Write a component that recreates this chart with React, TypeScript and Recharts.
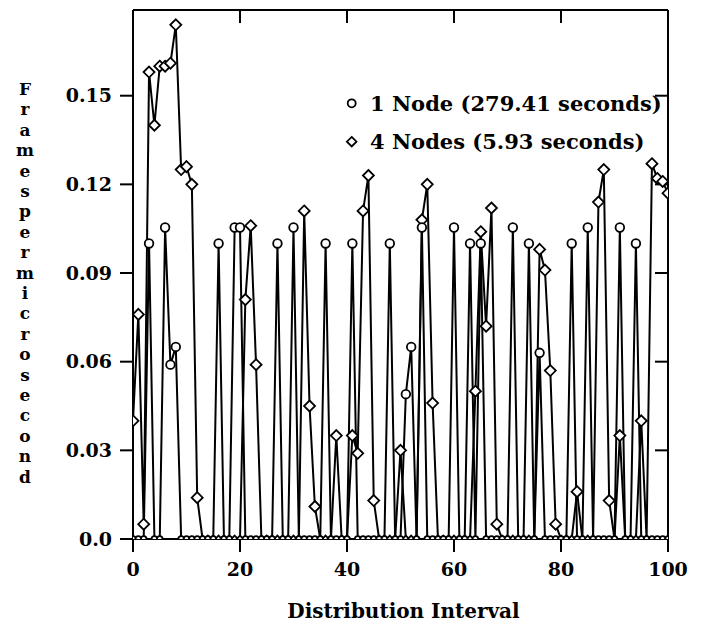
import React from 'react';
import { LineChart, Line, XAxis, YAxis, Legend } from 'recharts';

// Distribution intervals 0..100
const intervals: number[] = Array.from({ length: 101 }, (_, i) => i);

// 1 Node (279.41 seconds) — circles
const oneNode: number[] = [
  0, 0, 0, 0.100, 0, 0, 0.1054, 0.059, 0.065, 0,
  0, 0, 0, 0, 0, 0, 0.100, 0, 0, 0.1054,
  0.1054, 0, 0, 0, 0, 0, 0, 0.100, 0, 0,
  0.1054, 0, 0, 0, 0, 0, 0.100, 0, 0, 0,
  0, 0.100, 0, 0, 0, 0, 0, 0, 0.100, 0,
  0, 0.049, 0.065, 0, 0.1054, 0, 0, 0, 0, 0,
  0.1054, 0, 0, 0.100, 0, 0.100, 0, 0, 0, 0,
  0, 0.1054, 0, 0, 0.100, 0, 0.063, 0, 0, 0,
  0, 0, 0.100, 0, 0, 0.1054, 0, 0, 0, 0,
  0, 0.1054, 0, 0, 0.100, 0, 0, 0, 0, 0,
  0,
];

// 4 Nodes (5.93 seconds) — diamonds
const fourNodes: number[] = [
  0.040, 0.076, 0.005, 0.158, 0.140, 0.160, 0.160, 0.161, 0.174, 0.125,
  0.126, 0.120, 0.014, 0, 0, 0, 0, 0, 0, 0,
  0, 0.081, 0.106, 0.059, 0, 0, 0, 0, 0, 0,
  0, 0, 0.111, 0.045, 0.011, 0, 0, 0, 0.035, 0,
  0, 0.035, 0.029, 0.111, 0.123, 0.013, 0, 0, 0, 0,
  0.030, 0, 0, 0, 0.108, 0.120, 0.046, 0, 0, 0,
  0, 0, 0, 0, 0.050, 0.104, 0.072, 0.112, 0.005, 0,
  0, 0, 0, 0, 0, 0, 0.098, 0.091, 0.057, 0.005,
  0, 0, 0, 0.016, 0, 0, 0, 0.114, 0.125, 0.013,
  0, 0.035, 0, 0, 0, 0.040, 0, 0.127, 0.122, 0.121,
  0.117,
];

const xTicks: number[] = [0, 20, 40, 60, 80, 100];
const xTopTicks: number[] = [20, 40, 60, 80];
const yTicks: number[] = [0, 0.03, 0.06, 0.09, 0.12, 0.15];

const seriesOneName = '1 Node (279.41 seconds)';
const seriesFourName = '4 Nodes (5.93 seconds)';
const xTitle = 'Distribution Interval';
const yTitle = 'Framespermicrosecond';

const data = intervals.map((x, i) => ({ x, one: oneNode[i], four: fourNodes[i] }));

const FONT = "'DejaVu Serif', serif";

const CircleDot = (props: any) => {
  const { cx, cy, value, index } = props;
  if (cx == null || cy == null) return <g key={`c-${index}`} />;
  const r = value === 0 ? 2.8 : 4.3;
  return <circle key={`c-${index}`} cx={cx} cy={cy} r={r} fill="#fff" stroke="#000" strokeWidth={1.8} />;
};

const DiamondDot = (props: any) => {
  const { cx, cy, value, index } = props;
  if (cx == null || cy == null) return <g key={`d-${index}`} />;
  const s = value === 0 ? 3.4 : 5.5;
  return (
    <path
      key={`d-${index}`}
      d={`M${cx},${cy - s}L${cx + s},${cy}L${cx},${cy + s}L${cx - s},${cy}Z`}
      fill="#fff"
      stroke="#000"
      strokeWidth={1.8}
    />
  );
};

const renderLegend = () => (
  <svg width={345} height={85} style={{ display: 'block', overflow: 'visible' }}>
    <circle cx={21.7} cy={23.3} r={4} fill="#fff" stroke="#000" strokeWidth={1.8} />
    <text x={40} y={31} fontFamily={FONT} fontWeight="bold" fontSize={21} fill="#000">
      {seriesOneName}
    </text>
    <path d="M21.7,56.9L26.5,61.7L21.7,66.5L16.9,61.7Z" fill="#fff" stroke="#000" strokeWidth={1.8} />
    <text x={40} y={69.3} fontFamily={FONT} fontWeight="bold" fontSize={21} fill="#000">
      {seriesFourName}
    </text>
  </svg>
);

const renderXTitle = (props: any) => {
  const vb = props.viewBox || { x: 133, width: 535 };
  return (
    <text
      x={vb.x + vb.width / 2 + 3}
      y={618}
      textAnchor="middle"
      fontFamily={FONT}
      fontWeight="bold"
      fontSize={20}
      fill="#000"
    >
      {xTitle}
    </text>
  );
};

const renderYTitle = () => (
  <text fontFamily={FONT} fontWeight="bold" fontSize={17} fill="#000" textAnchor="middle">
    {yTitle.split('').map((ch, i) => (
      <tspan key={i} x={25} y={95 + i * 20.4}>
        {ch}
      </tspan>
    ))}
  </text>
);

const tickStyle = { fill: '#000', fontSize: 19, fontFamily: FONT, fontWeight: 'bold' as const };
const axisLineStyle = { stroke: '#000', strokeWidth: 2 };
const tickLineStyle = { stroke: '#000', strokeWidth: 2 };

const fmtY = (v: number) => (v === 0 ? '0.0' : v.toFixed(2));

export default function App() {
  return (
    <div style={{ margin: -8, width: 707, height: 631, background: '#fff' }}>
      <LineChart
        width={707}
        height={631}
        data={data}
        margin={{ top: 10, right: 39, bottom: 0, left: 0 }}
      >
        <XAxis
          xAxisId="b"
          dataKey="x"
          type="number"
          domain={[0, 100]}
          allowDataOverflow
          ticks={xTicks}
          tickSize={13}
          tickMargin={11}
          height={92}
          axisLine={axisLineStyle}
          tickLine={tickLineStyle}
          tick={tickStyle}
          label={{ content: renderXTitle }}
        />
        <XAxis
          xAxisId="t"
          orientation="top"
          mirror
          dataKey="x"
          type="number"
          domain={[0, 100]}
          allowDataOverflow
          ticks={xTopTicks}
          tickSize={13}
          axisLine={axisLineStyle}
          tickLine={tickLineStyle}
          tick={() => <g />}
        />
        <YAxis
          yAxisId="l"
          type="number"
          domain={[0, 0.179]}
          allowDataOverflow
          ticks={yTicks}
          width={133}
          tickSize={13}
          tickMargin={8}
          tickFormatter={fmtY}
          axisLine={axisLineStyle}
          tickLine={tickLineStyle}
          tick={tickStyle}
          label={{ content: renderYTitle }}
        />
        <YAxis
          yAxisId="r"
          orientation="right"
          mirror
          type="number"
          domain={[0, 0.179]}
          allowDataOverflow
          ticks={yTicks}
          tickSize={13}
          axisLine={axisLineStyle}
          tickLine={tickLineStyle}
          tick={() => <g />}
        />
        <Line
          xAxisId="b"
          yAxisId="l"
          type="linear"
          dataKey="four"
          name={seriesFourName}
          stroke="#000"
          strokeWidth={2}
          dot={DiamondDot}
          activeDot={false}
          isAnimationActive={false}
        />
        <Line
          xAxisId="b"
          yAxisId="l"
          type="linear"
          dataKey="one"
          name={seriesOneName}
          stroke="#000"
          strokeWidth={2}
          dot={CircleDot}
          activeDot={false}
          isAnimationActive={false}
        />
        <Legend
          layout="vertical"
          align="center"
          verticalAlign="middle"
          content={renderLegend}
          wrapperStyle={{ left: 330, top: 80, width: 345, height: 85 }}
        />
      </LineChart>
    </div>
  );
}
